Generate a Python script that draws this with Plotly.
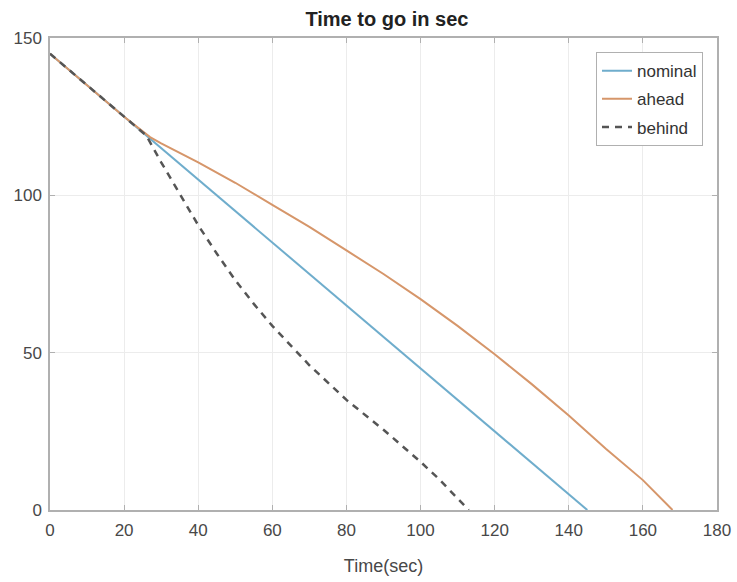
import plotly.graph_objects as go

# Time-to-go profiles (seconds) for the three schedule cases
nominal_t = [0, 145]
nominal_v = [145, 0]

ahead_t = [0, 10, 20, 27, 30, 40, 50, 60, 70, 80, 90, 100, 110, 120, 130, 140, 150, 160, 168]
ahead_v = [145, 135, 125, 118.5, 116.5, 110.5, 104, 97, 90, 82.5, 75, 67, 58.5, 49.5, 40, 30, 19.5, 9.5, 0]

behind_t = [0, 10, 20, 26, 30, 35, 40, 45, 50, 55, 60, 70, 80, 90, 95, 100, 105, 110, 113]
behind_v = [145, 135, 125, 119, 110.5, 100.5, 90.5, 81.5, 73, 65.5, 58.5, 46, 35, 25.5, 20.5, 15.3, 9.8, 3.8, 0]

x_ticks = [0, 20, 40, 60, 80, 100, 120, 140, 160, 180]
y_ticks = [0, 50, 100, 150]

FONT = "Liberation Sans"
AXIS_COLOR = "#b0b0b0"
GRID_COLOR = "#ececec"
TEXT_COLOR = "#484848"

fig = go.Figure()
fig.add_trace(go.Scatter(x=nominal_t, y=nominal_v, mode="lines", name="nominal",
                         legendgroup="nominal",
                         line=dict(color="#6fadcc", width=2)))
fig.add_trace(go.Scatter(x=ahead_t, y=ahead_v, mode="lines", name="ahead",
                         legendgroup="ahead",
                         line=dict(color="#d6966a", width=2)))
fig.add_trace(go.Scatter(x=behind_t, y=behind_v, mode="lines", name="behind",
                         legendgroup="behind",
                         line=dict(color="#555555", width=2.5, dash="7px,6px")))

axis_common = dict(
    showline=True, linecolor=AXIS_COLOR, linewidth=1.5, mirror="ticks",
    ticks="inside", ticklen=5, tickcolor=AXIS_COLOR, tickwidth=1,
    showgrid=True, gridcolor=GRID_COLOR, gridwidth=1, zeroline=False,
    tickfont=dict(family=FONT, size=17, color=TEXT_COLOR),
    automargin=False,
)

fig.update_xaxes(range=[0, 180], tickvals=x_ticks, ticklabelstandoff=4, **axis_common,
                 title=dict(text="Time(sec)", standoff=20,
                            font=dict(family=FONT, size=18, color=TEXT_COLOR)))
fig.update_yaxes(range=[0, 150], tickvals=y_ticks, ticklabelstandoff=3, **axis_common)

fig.update_layout(
    width=737, height=582,
    margin=dict(l=50, r=20, t=38, b=72, autoexpand=False),
    paper_bgcolor="white", plot_bgcolor="white",
    font=dict(family=FONT, color=TEXT_COLOR),
    title=dict(text="<b>Time to go in sec</b>", x=0.525, xanchor="center",
               y=1 - 19 / 582, yanchor="middle", yref="container",
               font=dict(family=FONT, size=20, color="#222222")),
    showlegend=True,
    legend=dict(x=0.979, y=0.970, xanchor="right", yanchor="top",
                bgcolor="white", bordercolor="#b0b0b0", borderwidth=1,
                font=dict(family=FONT, size=17, color="#333333"),
                itemwidth=30, tracegroupgap=3),
)

fig.write_html("out.html")
